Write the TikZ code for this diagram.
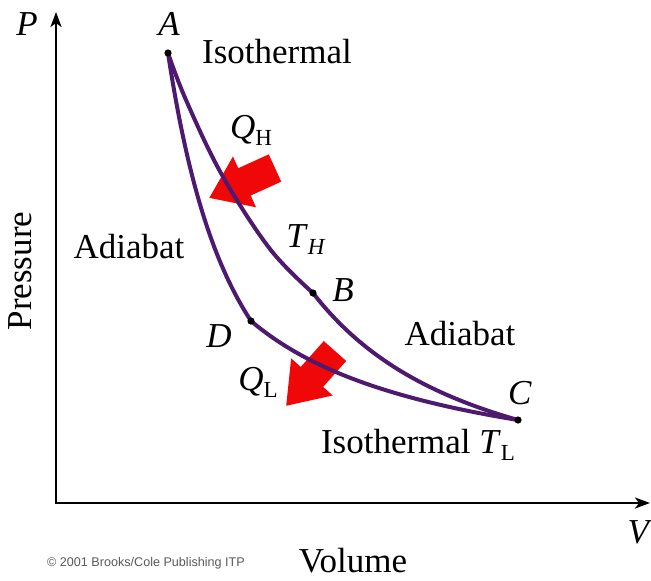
\documentclass[tikz,border=0pt]{standalone}
\usepackage{fontspec}
\setmainfont{Liberation Serif}
\newfontfamily\credfont{Liberation Sans}
\usetikzlibrary{arrows.meta}
\definecolor{CicloMorado}{RGB}{78, 26, 112}
\definecolor{CalorRojo}{RGB}{240, 8, 8}
\newcommand{\lowsub}[1]{\raisebox{-3.5pt}{\fontsize{11.5}{12}\selectfont #1}}
% rama del ciclo: V inicial, P inicial, V final, exponente
\newcommand{\rama}[4]{\draw[ciclo] plot[domain=#1:#3,samples=80,smooth] ({56+\x},{503-#2*(#1/\x)^#4});}

\begin{document}
\begin{tikzpicture}[x=0.5pt,y=-0.5pt,
    eje/.style={line width=1.35pt,{Stealth[length=7.5pt,width=5.5pt,inset=2pt]}-{Stealth[length=7.5pt,width=5.5pt,inset=2pt]}},
    ciclo/.style={line width=2pt,draw=CicloMorado},
    calor/.style={line width=15pt,draw=CalorRojo,-{Triangle[length=19.5pt,width=26.5pt]}},
    estado/.style={circle,fill=black,inner sep=0pt,minimum size=3.6pt},
    etq/.style={font=\fontsize{17.5}{20}\selectfont,inner sep=0pt}]
  \useasboundingbox (0,0) rectangle (651,580);
  % ejes
  \coordinate (O) at (56,503);
  \coordinate (Ptop) at (56,12);
  \coordinate (Vend) at (650,503);
  \draw[eje] (Ptop) -- (O) -- (Vend);
  % flechas de calor
  \coordinate (qh tail) at (275,168);
  \coordinate (qh tip) at (209,198);
  \coordinate (ql tail) at (335,351);
  \coordinate (ql tip) at (286,406);
  \draw[calor] (qh tail) -- (qh tip);
  \draw[calor] (ql tail) -- (ql tip);
  % ciclo
  \draw[ciclo] plot[smooth,tension=0.6] coordinates {(168,53) (186,100) (222,175) (270,249) (313,293)};
  \rama{257}{210}{462}{1.583}
  \rama{112}{450}{195}{1.632}
  \rama{195}{182}{462}{0.9103}
  \node[estado] (A) at (168,53) {};
  \node[estado] (B) at (313,293) {};
  \node[estado] (C) at (518,420) {};
  \node[estado] (D) at (251,321) {};
  % textos
  \node[etq] (lP) at (27,24) {\textit{P}};
  \node[etq] (lV) at (640,532) {\textit{V}};
  \node[etq] (lA) at (169,24) {\textit{A}};
  \node[etq] (lB) at (343,290) {\textit{B}};
  \node[etq] (lC) at (520,393) {\textit{C}};
  \node[etq] (lD) at (219,336) {\textit{D}};
  \node[etq] (isoH) at (277,52) {Isothermal};
  \node[etq] (qH) at (251,130) {\textit{Q}\lowsub{H}};
  \node[etq] (tH) at (306,240) {\textit{T}\lowsub{\textit{H}}};
  \node[etq] (adL) at (129,247) {Adiabat};
  \node[etq] (adR) at (460,334) {Adiabat};
  \node[etq] (qL) at (258,382) {\textit{Q}\lowsub{L}};
  \node[etq] (isoL) at (418,445) {Isothermal \textit{T}\lowsub{L}};
  \node[etq] (vol) at (353,561) {Volume};
  \node[etq,rotate=90] (pres) at (20,271) {Pressure};
  \node[font=\credfont\fontsize{6.3}{7}\selectfont,text=black!65,inner sep=0pt] (cred) at (146,563) {\textcopyright\ 2001 Brooks/Cole Publishing ITP};
\end{tikzpicture}
\end{document}
